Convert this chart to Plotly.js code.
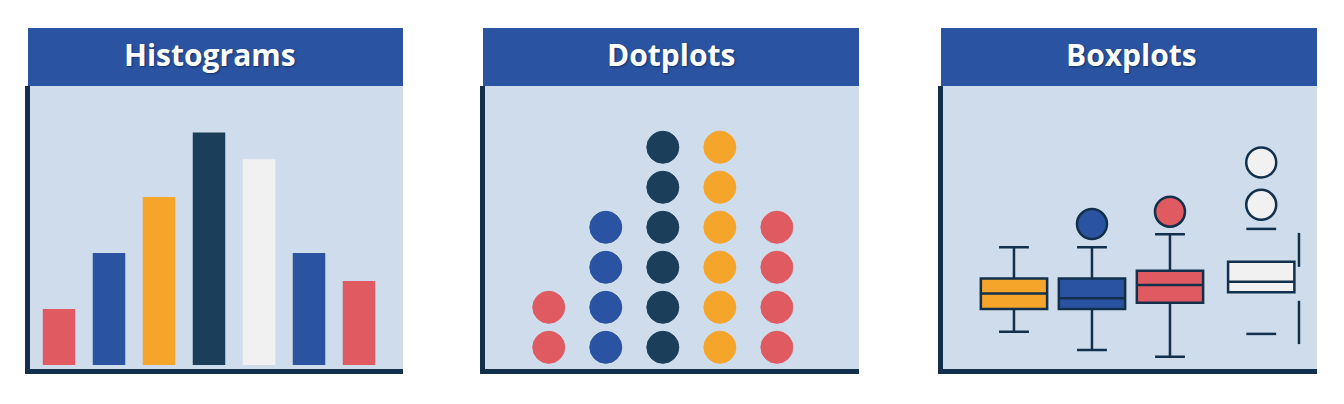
<!DOCTYPE html>
<html>
<head>
<meta charset="utf-8">
<script src="https://cdn.plot.ly/plotly-3.0.1.min.js"></script>
<style>
  html, body { margin: 0; padding: 0; background: #fff; }
  #plot { width: 1344px; height: 404px; }
</style>
</head>
<body>
<div id="plot"></div>
<script>
// colours
const RED = '#df5a61';
const BLUE = '#2a53a1';
const DARK = '#1b3f5b';
const ORANGE = '#f4a52a';
const WHITE = '#f1f1f1';
const NAVY = '#12304b';

// histogram
const histBins = [0, 1, 2, 3, 4, 5, 6];
const histCounts = [2, 4, 6, 8.3, 7.35, 4, 3];
const histColors = [RED, BLUE, ORANGE, DARK, WHITE, BLUE, RED];

// dotplot
const dotColumns = [0, 1, 2, 3, 4];
const dotCounts = [2, 4, 6, 6, 4];
const dotColors = [RED, BLUE, DARK, ORANGE, RED];

// boxplots
const boxPos = [1, 2, 3, 4.17];
const boxQ1 = [2.12, 2.12, 2.34, 2.71];
const boxMedian = [2.67, 2.5, 2.97, 3.08];
const boxQ3 = [3.2, 3.2, 3.47, 3.79];
const boxLower = [1.32, 0.67, 0.43, 1.24];
const boxUpper = [4.3, 4.3, 4.76, 4.95];
const boxColors = [ORANGE, BLUE, RED, WHITE];
const outlierBox = [1, 2, 3, 3];
const outlierValues = [5.12, 5.56, 5.8, 7.3];
// the white box is caught mid-animation: its whiskers are drawn off to the side
const strayWhiskerX = [4.654, 4.654];
const strayWhiskerLow = [4.81, 2.41];
const strayWhiskerHigh = [3.61, 0.88];

const W = 1344, H = 404;
const px = v => v / W;
const py = v => 1 - v / H;

const boxWidth = 0.85;
const capFrac = 0.45;

const traces = [];

traces.push({
  type: 'bar',
  x: histBins,
  y: histCounts,
  width: 0.65,
  marker: { color: histColors, line: { width: 0 } },
  xaxis: 'x', yaxis: 'y',
  hoverinfo: 'skip',
});

const dotX = [], dotY = [], dotC = [];
dotColumns.forEach((c, i) => {
  for (let k = 1; k <= dotCounts[i]; k++) {
    dotX.push(c);
    dotY.push(k);
    dotC.push(dotColors[i]);
  }
});
traces.push({
  type: 'scatter',
  mode: 'markers',
  x: dotX,
  y: dotY,
  marker: { size: 32, color: dotC, line: { color: dotC, width: 1 } },
  xaxis: 'x2', yaxis: 'y2',
  hoverinfo: 'skip',
});

boxPos.forEach((p, i) => {
  const last = i === boxPos.length - 1;
  traces.push({
    type: 'box',
    x: [p],
    q1: [boxQ1[i]],
    median: [boxMedian[i]],
    q3: [boxQ3[i]],
    lowerfence: [last ? boxQ1[i] : boxLower[i]],
    upperfence: [last ? boxQ3[i] : boxUpper[i]],
    width: boxWidth,
    whiskerwidth: last ? 0 : capFrac,
    fillcolor: boxColors[i],
    line: { color: NAVY, width: 2.5 },
    boxpoints: false,
    xaxis: 'x3', yaxis: 'y3',
    hoverinfo: 'skip',
  });
});

// caps of the white box (left in place)
const lastPos = boxPos[boxPos.length - 1];
const half = boxWidth * capFrac / 2;
const lastIdx = boxPos.length - 1;
traces.push({
  type: 'scatter',
  mode: 'lines',
  x: [lastPos - half, lastPos + half, null, lastPos - half, lastPos + half],
  y: [boxUpper[lastIdx], boxUpper[lastIdx], null, boxLower[lastIdx], boxLower[lastIdx]],
  line: { color: NAVY, width: 2.5 },
  xaxis: 'x3', yaxis: 'y3',
  hoverinfo: 'skip',
});

const strayX = [], strayY = [];
strayWhiskerX.forEach((x, i) => {
  strayX.push(x, x, null);
  strayY.push(strayWhiskerLow[i], strayWhiskerHigh[i], null);
});
traces.push({
  type: 'scatter',
  mode: 'lines',
  x: strayX,
  y: strayY,
  line: { color: NAVY, width: 2.5 },
  xaxis: 'x3', yaxis: 'y3',
  hoverinfo: 'skip',
});

traces.push({
  type: 'scatter',
  mode: 'markers',
  x: outlierBox.map(i => boxPos[i]),
  y: outlierValues,
  marker: {
    size: 30,
    color: outlierBox.map(i => boxColors[i]),
    line: { color: NAVY, width: 2.5 },
  },
  xaxis: 'x3', yaxis: 'y3',
  hoverinfo: 'skip',
});

const baseAxis = {
  showline: true,
  linecolor: NAVY,
  linewidth: 5,
  showgrid: false,
  zeroline: false,
  showticklabels: false,
  ticks: '',
  fixedrange: true,
};
const yDomain = [py(369), py(86)];

const panels = [
  { x0: 28, x1: 403, tx: 210, title: 'Histograms' },
  { x0: 483, x1: 859, tx: 671, title: 'Dotplots' },
  { x0: 941, x1: 1317, tx: 1131, title: 'Boxplots' },
];

const layout = {
  width: W,
  height: H,
  margin: { l: 0, r: 0, t: 0, b: 0 },
  paper_bgcolor: '#ffffff',
  plot_bgcolor: '#cfdcec',
  showlegend: false,
  boxmode: 'overlay',
  xaxis: { ...baseAxis, domain: [px(30), px(403)], range: [-0.58, 6.88], anchor: 'y' },
  yaxis: { ...baseAxis, domain: yDomain, range: [-0.143, 9.964], anchor: 'x' },
  xaxis2: { ...baseAxis, domain: [px(485), px(859)], range: [-1.118, 5.44], anchor: 'y2' },
  yaxis2: { ...baseAxis, domain: yDomain, range: [0.4575, 7.53], anchor: 'x2' },
  xaxis3: { ...baseAxis, domain: [px(943), px(1317)], range: [0.09, 4.885], anchor: 'y3' },
  yaxis3: { ...baseAxis, domain: yDomain, range: [0, 10], anchor: 'x3' },
  shapes: panels.map(p => ({
    type: 'rect',
    xref: 'paper', yref: 'paper',
    x0: px(p.x0), x1: px(p.x1),
    y0: py(86), y1: py(28),
    fillcolor: BLUE,
    line: { width: 0 },
    layer: 'above',
  })),
  annotations: panels.map(p => ({
    xref: 'paper', yref: 'paper',
    x: px(p.tx),
    y: py(54),
    xanchor: 'center', yanchor: 'middle',
    text: '<b>' + p.title + '</b>',
    showarrow: false,
    font: { family: 'Open Sans, sans-serif', size: 30, color: '#ffffff', shadow: '1px 1px 2px #16306a' },
  })),
};

const config = {
  displayModeBar: false,
  staticPlot: true,
};

Plotly.newPlot('plot', traces, layout, config);
</script>
</body>
</html>
